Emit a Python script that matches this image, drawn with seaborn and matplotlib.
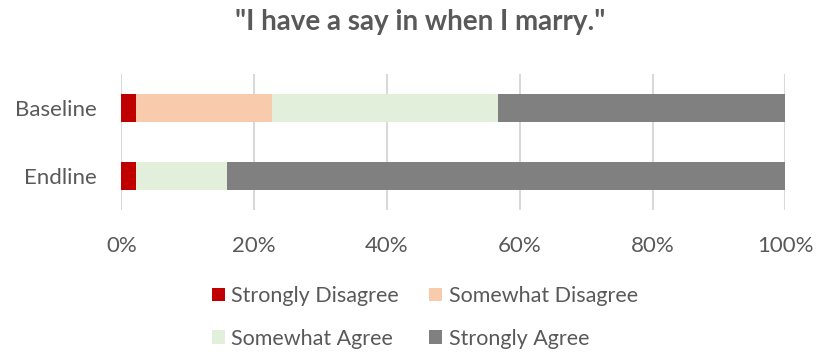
import matplotlib
matplotlib.use("Agg")
import matplotlib.pyplot as plt
from matplotlib.patches import Patch
from matplotlib.ticker import PercentFormatter
import numpy as np
import pandas as pd
import seaborn as sns

# Survey responses (% of respondents)
groups = ["Baseline", "Endline"]
categories = ["Strongly Disagree", "Somewhat Disagree", "Somewhat Agree", "Strongly Agree"]
strongly_disagree = [2.2, 2.2]
somewhat_disagree = [20.5, 0.0]
somewhat_agree = [34.1, 13.7]
strongly_agree = [43.2, 84.1]
colors = ["#c00000", "#f8cbad", "#e2efda", "#808080"]
title = '"I have a say in when I marry."'

sns.set_theme(style="white")
plt.rcParams["font.family"] = ["Lato", "DejaVu Sans"]
text_color = "#595959"

series = [strongly_disagree, somewhat_disagree, somewhat_agree, strongly_agree]
df = pd.DataFrame(dict(zip(categories, series)), index=groups)
cum = df.cumsum(axis=1)

fig = plt.figure(figsize=(8.25, 3.59), dpi=100)
ax = fig.add_axes([0.147, 0.415, 0.805, 0.379])

# Stacked bars: draw running totals from the outermost segment inwards
for cat, col in reversed(list(zip(categories, colors))):
    sns.barplot(x=cum[cat].values, y=groups, orient="h", color=col,
                width=0.4, ax=ax, saturation=1, linewidth=0, zorder=3)

ax.set_xlim(0, 100)
ax.set_ylim(1.5, -0.5)
ax.set_xticks(np.arange(0, 101, 20))
ax.xaxis.set_major_formatter(PercentFormatter(decimals=0))
ax.grid(axis="x", color="#d9d9d9", linewidth=1.5, zorder=0)
ax.set_axisbelow(True)
for s in ax.spines.values():
    s.set_visible(False)
ax.set_xlabel("")
ax.set_ylabel("")
ax.tick_params(axis="both", length=0, labelsize=16, colors=text_color)
ax.tick_params(axis="y", pad=18)
ax.tick_params(axis="x", pad=19)

fig.suptitle(title, x=0.509, y=0.975, fontsize=20, fontweight="bold", color=text_color)

handles = [Patch(facecolor=c, edgecolor="none") for c in colors]
order = [0, 2, 1, 3]
leg = fig.legend([handles[i] for i in order], [categories[i] for i in order],
                 ncol=2, loc="center", bbox_to_anchor=(0.515, 0.116), frameon=False,
                 fontsize=15.5, handlelength=0.6, handleheight=0.6, handletextpad=0.3,
                 columnspacing=1.4, labelspacing=1.05)
for t in leg.get_texts():
    t.set_color(text_color)

fig.savefig("out.png", dpi=100)
